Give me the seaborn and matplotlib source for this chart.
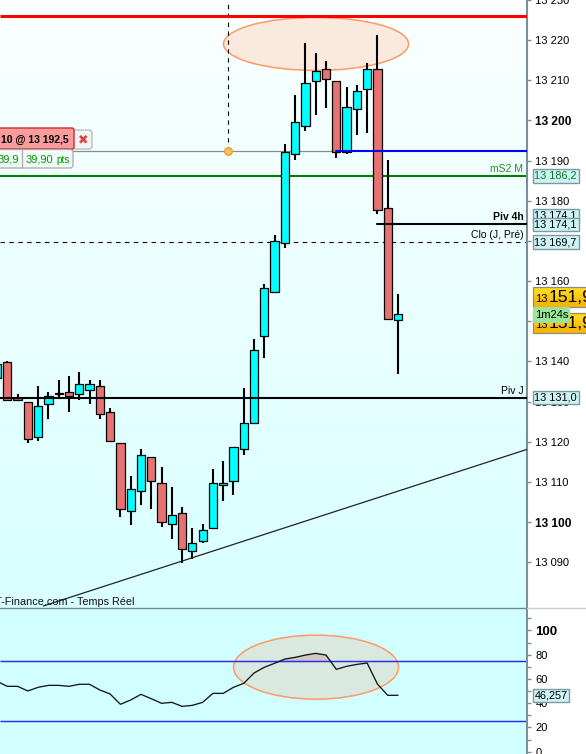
import matplotlib
matplotlib.use("Agg")
import matplotlib.pyplot as plt
from matplotlib.patches import Ellipse, Rectangle, FancyBboxPatch
import numpy as np
import seaborn as sns

candle_idx = list(range(-1, 39))
candle_open = [13135.8, 13139.8, 13130.9, 13129.9, 13121.2, 13129.4, 13132.1, 13132.4, 13131.9, 13132.9,
               13133.9, 13127.4, 13119.7, 13102.8, 13107.8, 13116.2, 13109.8, 13099.4, 13102.3, 13092.9,
               13095.4, 13098.4, 13109.3, 13110.3, 13118.2, 13124.7, 13146.4, 13157.3, 13169.4, 13191.7,
               13198.6, 13209.8, 13212.8, 13209.8, 13192.2, 13202.9, 13207.8, 13212.8, 13178.3, 13150.2]
candle_close = [13139.3, 13130.4, 13130.4, 13120.7, 13128.9, 13131.4, 13131.9, 13131.4, 13134.4, 13134.4,
                13126.9, 13120.2, 13103.3, 13108.3, 13116.7, 13110.3, 13099.9, 13101.8, 13093.4, 13094.9,
                13097.9, 13109.8, 13109.8, 13118.7, 13124.7, 13142.8, 13158.3, 13169.9, 13192.2, 13199.6,
                13209.3, 13212.3, 13210.3, 13192.2, 13203.3, 13207.3, 13212.8, 13177.8, 13150.6, 13151.7]
candle_high = [13139.3, 13140.1, 13131.9, 13129.9, 13133.9, 13132.4, 13135.4, 13136.3, 13137.3, 13135.4,
               13135.4, 13128.4, 13119.7, 13111.4, 13118.2, 13116.2, 13113.8, 13108.8, 13103.8, 13098.4,
               13099.4, 13113.3, 13115.2, 13118.7, 13133.4, 13145.6, 13159.3, 13171.4, 13194.2, 13206.3,
               13219.2, 13216.7, 13214.8, 13209.8, 13208.3, 13208.8, 13214.3, 13221.2, 13190.2, 13156.7]
candle_low = [13135.8, 13130.4, 13130.4, 13119.7, 13120.1, 13125.6, 13131.2, 13127.3, 13130.4, 13129.4,
              13125.7, 13120.2, 13101.3, 13099.3, 13104.2, 13103.2, 13098.8, 13095.8, 13089.9, 13090.8,
              13094.9, 13098.4, 13105.2, 13106.7, 13116.7, 13124.7, 13140.9, 13157.0, 13168.3, 13190.1,
              13197.5, 13201.3, 13203.2, 13190.6, 13191.6, 13196.5, 13197.0, 13176.7, 13150.3, 13136.8]
osc_values = [58.0, 53.9, 53.9, 50.1, 53.1, 54.7, 54.7, 53.9, 55.6, 55.6,
              50.9, 47.6, 39.1, 42.6, 47.3, 43.7, 39.9, 40.7, 37.4, 38.2,
              40.7, 48.1, 48.1, 53.1, 56.4, 64.9, 69.6, 72.9, 76.4, 77.8,
              79.7, 81.1, 79.7, 67.9, 70.4, 72.0, 73.1, 55.8, 46.5, 46.5]

price_ticks = list(range(13090, 13240, 10))
osc_ticks = [0, 10, 20, 30, 40, 50, 60, 70, 80, 90, 100, 110]
level_red = 13226.0
level_order = 13192.5
level_ms2 = 13186.2
level_piv4h = 13174.1
level_clo = 13169.7
level_pivj = 13131.0
trend_x = [3.5, 50.55]
trend_y = [13079.1, 13118.1]
osc_levels = [75, 25]
osc_last = 46.257

sns.set_theme(style="white")
plt.rcParams["font.family"] = ["Liberation Sans", "DejaVu Sans"]

CYAN = "#00FFFF"
RED = "#E87272"
AXIS = "#76919A"
ORANGE = "#FF9A66"

fig = plt.figure(figsize=(5.86, 7.54), dpi=100, facecolor="white")
ax = fig.add_axes([0, 146 / 754, 527 / 586, 608 / 754])
ax2 = fig.add_axes([0, 0, 527 / 586, 146 / 754])
xlim = (-0.71, 50.55)
ylim1 = (13078.6, 13229.5)
ylim2 = (-1.9, 118.5)

# background gradients
grad = np.linspace(0, 1, 256).reshape(-1, 1, 1)
top_col = np.array([0.985, 1, 1]).reshape(1, 1, 3)
bot_col = np.array([0.85, 1, 1]).reshape(1, 1, 3)
ax.imshow(top_col * (1 - grad) + bot_col * grad, aspect="auto", extent=[*xlim, *ylim1], zorder=0)
ax2.set_facecolor("#D1FFFF")

# top panel overlays behind the candles
ax.add_patch(Ellipse((30.03, 13219.06), 18, 13.2, fc="#FAE9DD", ec=ORANGE, lw=1.1, zorder=1))
ax.hlines(level_ms2, *xlim, color="#008000", lw=1.5, zorder=2)
ax.hlines(level_clo, *xlim, color="black", lw=0.8, ls=(0, (4, 4)), zorder=2)
ax.plot([xlim[0], 31.97], [level_order] * 2, color="#8C8C8C", lw=0.9, zorder=2)
ax.plot([21.47, 21.47], [level_order, ylim1[1]], color="black", lw=0.8, ls=(0, (4, 4)), zorder=2)

# candles
for i, o, c, h, l in zip(candle_idx, candle_open, candle_close, candle_high, candle_low):
    ax.vlines(i, l, h, color="black", lw=1.5, zorder=3)
    ax.bar(i, abs(c - o), bottom=min(o, c), width=0.8, color=CYAN if c >= o else RED,
           edgecolor="black", linewidth=0.9, zorder=4)

ax.hlines(level_red, *xlim, color="#FF0000", lw=2.2, zorder=5)
ax.plot([31.97, xlim[1]], [level_order] * 2, color="#0000F0", lw=1.5, zorder=5)
ax.plot([36, xlim[1]], [level_piv4h] * 2, color="black", lw=1.5, zorder=5)
ax.hlines(level_pivj, *xlim, color="black", lw=1.5, zorder=5)
ax.plot(trend_x, trend_y, color="#222222", lw=0.9, zorder=5)
ax.plot([21.47], [level_order], marker="o", ms=5.5, mfc="#F8C060", mec="#E8A030", zorder=6)

# right labels on the levels
ax.text(50.2, level_ms2 + 1.7, "mS2 M", color="#2E8B22", fontsize=7.5, ha="right", va="center", zorder=7)
ax.text(50.2, level_piv4h + 1.8, "Piv 4h", color="black", fontsize=7.5, fontweight="bold", ha="right", va="center", zorder=7)
ax.text(50.2, level_clo + 1.7, "Clo (J, Pré)", color="black", fontsize=7.5, ha="right", va="center", zorder=7)
ax.text(50.2, level_pivj + 1.7, "Piv J", color="black", fontsize=7.5, ha="right", va="center", zorder=7)

# oscillator panel
ax2.add_patch(Ellipse((30.03, 69.7), 16.05, 52.8, fc="#D9E9DF", ec=ORANGE, lw=1.1, zorder=1))
xs = np.array(candle_idx)
ys = np.array(osc_values)
ax2.fill_between(xs, ys, osc_levels[0], where=ys > osc_levels[0], color="#D3C6C4", zorder=2, interpolate=True)
for lev in osc_levels:
    ax2.hlines(lev, *xlim, color="#2A2AF5", lw=1.05, zorder=2)
sns.lineplot(x=candle_idx, y=osc_values, ax=ax2, color="#151515", lw=0.95, estimator=None, sort=False, zorder=3)

for a, lim in ((ax, ylim1), (ax2, ylim2)):
    a.set_xlim(*xlim)
    a.set_ylim(*lim)
    a.set_xticks([])
    a.yaxis.tick_right()
    for side in ("left", "top", "bottom"):
        a.spines[side].set_visible(False)
    a.spines["right"].set_color(AXIS)
    a.spines["right"].set_linewidth(1.5)
    a.tick_params(axis="y", right=True, length=3, width=1, color=AXIS, pad=3, labelsize=8, labelcolor="black")

ax.set_yticks(price_ticks)
ax.set_yticklabels([f"13 {v - 13000:03d}" for v in price_ticks])
for lab, v in zip(ax.get_yticklabels(), price_ticks):
    if v % 100 == 0:
        lab.set_fontweight("bold")
        lab.set_fontsize(8.6)

ax2.set_yticks(osc_ticks)
ax2.set_yticklabels([str(v) if v % 20 == 0 else "" for v in osc_ticks])
ax2.get_yticklabels()[10].set_fontweight("bold")
ax2.get_yticklabels()[10].set_fontsize(9.5)


def value_box(a, val, text, color="black"):
    a.text(534.5 / 527, val, text, transform=a.get_yaxis_transform(), fontsize=7.8, color=color, ha="left",
           va="center", clip_on=False, zorder=10,
           bbox=dict(boxstyle="square,pad=0.16", fc="#CDF3F5", ec="#7C9AA0", lw=1.0))


value_box(ax, level_piv4h + 2.2, "13 174,1")
value_box(ax, level_piv4h, "13 174,1")
value_box(ax, level_clo, "13 169,7")
value_box(ax, level_ms2, "13 186,2", color="#0E7A22")
value_box(ax, level_pivj, "13 131,0")
value_box(ax2, osc_last, "46,257")

# overlay in pixel coordinates for the order widget and clock boxes
ov = fig.add_axes([0, 0, 1, 1], zorder=20)
ov.set_xlim(0, 586)
ov.set_ylim(754, 0)
ov.axis("off")
ov.patch.set_alpha(0)

ov.plot([0, 527], [608, 608], color="#70858C", lw=1.0)
ov.plot([527, 586], [608, 608], color="#C5D2D5", lw=1.0)

ov.add_patch(FancyBboxPatch((70, 130), 22, 19, boxstyle="round,pad=0,rounding_size=3", fc="#F2F4F4", ec="#B8B8B8", lw=0.9))
ov.add_patch(FancyBboxPatch((-6, 128), 80, 21, boxstyle="round,pad=0,rounding_size=2", fc="#F99C9C", ec="#D02A2A", lw=1.0))
ov.text(1, 139.5, "10 @ 13 192,5", fontsize=7.5, fontweight="bold", color="black", va="center")
ov.text(83.5, 139.5, "\u2716", family="DejaVu Sans", fontsize=9, color="#D84545", ha="center", va="center")
ov.add_patch(FancyBboxPatch((-6, 149.5), 79, 18.5, boxstyle="round,pad=0,rounding_size=3", fc="#F4FBFB", ec="#A8A8A8", lw=0.9))
ov.plot([21.5, 21.5], [150, 168], color="#A8A8A8", lw=0.9)
ov.text(-2, 159, "39,9", fontsize=8, color="#009A00", va="center")
ov.text(26, 159, "39,90", fontsize=8, color="#009A00", va="center")
ov.text(56, 160, "pts", fontsize=7.2, color="#009A00", va="center")

ov.text(-5, 602, "T-Finance.com - Temps Réel", fontsize=7.8, color="#111111", va="center")

for top in (287, 313):
    ov.imshow(np.array([[[1, 0.85, 0.1]], [[0.97, 0.72, 0.02]]]), extent=[532.5, 590, top + 20, top], aspect="auto",
              interpolation="bilinear", zorder=2)
    ov.add_patch(Rectangle((532.5, top), 60, 20, fc="none", ec="#8A8F80", lw=0.9, zorder=3))
    ov.text(535, top + 12, "13", fontsize=8, color="black", va="center", zorder=4)
    ov.text(549, top + 10, "151,9", fontsize=12.6, color="black", va="center", zorder=4)
ov.add_patch(Rectangle((532.5, 307), 36, 15, fc="#98E898", ec="#A8D8A8", lw=0.8, zorder=5))
ov.text(535, 314.5, "1m24s", fontsize=8, color="black", va="center", zorder=6)
ov.set_xlim(0, 586)
ov.set_ylim(754, 0)

fig.savefig("out.png", dpi=100)
